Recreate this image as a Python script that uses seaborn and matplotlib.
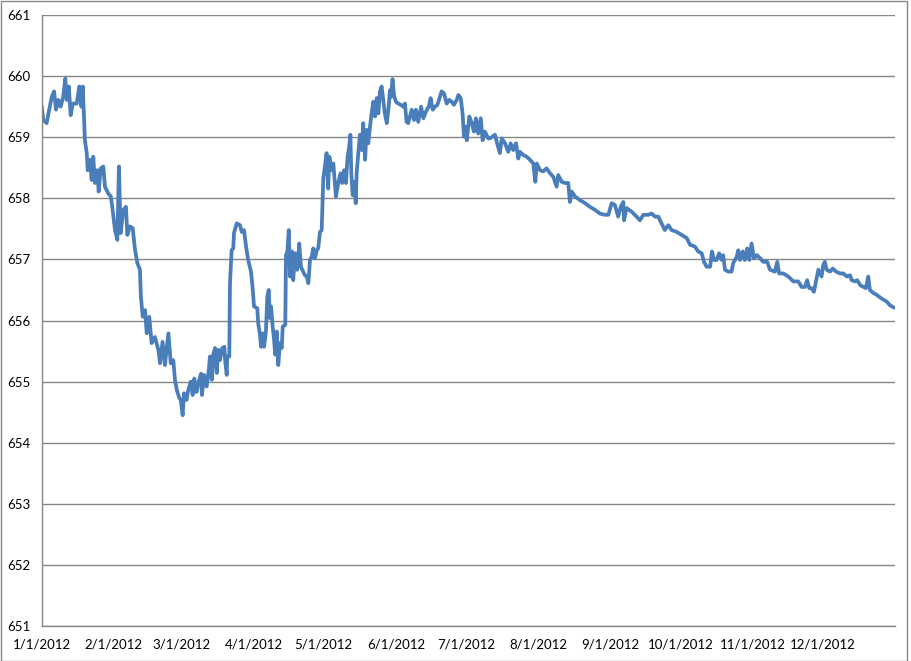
"""Excel-style line chart of a daily level series for 2012."""

import matplotlib
matplotlib.use("Agg")
import matplotlib.pyplot as plt
from matplotlib.patches import Rectangle
import pandas as pd
import seaborn as sns

# days since 1/1/2012 and the level read at that time
days = [
    0.1, 0.8, 2.2, 3.3, 4.4, 5.4, 6.2, 7.2, 8.2, 9.3, 10.2, 10.8, 11.7, 12.5,
    13.4, 15.1, 16.2, 17.1, 17.7, 18.2, 18.6, 19.4, 19.8, 20.8, 21.5, 22.2,
    22.9, 23.9, 24.5, 25.4, 26.5, 27.2, 28.6, 29.7, 30.5, 31.5, 32.5, 33.2,
    33.9, 35.1, 36.2, 36.8, 37.9, 39.1, 40.1, 41.1, 42.2, 42.6, 43.4, 44.4,
    45.1, 46.2, 47.2, 48.6, 50.1, 50.8, 51.9, 52.9, 54.4, 55.4, 56.5, 57.2,
    58.0, 59.1, 59.7, 60.5, 61.1, 62.2, 62.9, 64.0, 64.8, 65.5, 66.5, 67.4,
    68.4, 68.8, 69.7, 70.8, 71.8, 72.2, 73.0, 73.6, 74.4, 75.1, 75.8, 76.5,
    77.5, 78.4, 78.7, 79.4, 79.6, 80.5, 80.8, 81.5, 82.2, 82.5, 83.7, 85.1,
    85.8, 86.8, 87.7, 88.6, 89.8, 90.5, 91.1, 92.5, 92.9, 93.7, 94.1, 94.8,
    95.4, 96.2, 96.8, 97.4, 97.9, 98.4, 99.1, 99.7, 100.2, 100.8, 101.5,
    102.2, 103.0, 103.4, 104.5, 104.8, 105.4, 106.0, 106.5, 107.4, 107.9,
    108.7, 109.6, 110.5, 111.2, 112.2, 112.9, 113.7, 114.4, 115.1, 115.8,
    116.5, 117.2, 118.0, 118.6, 119.4, 120.1, 120.5, 120.8, 121.5, 122.2,
    122.9, 123.4, 124.4, 125.1, 126.2, 127.2, 128.2, 128.9, 129.7, 130.5,
    131.2, 131.9, 132.4, 132.8, 133.4, 134.1, 134.7, 135.1, 135.8, 136.5,
    137.3, 137.9, 138.7, 139.4, 140.1, 140.8, 141.5, 142.2, 143.0, 143.7,
    144.4, 145.1, 145.8, 146.5, 147.2, 148.0, 148.7, 149.4, 149.8, 150.5,
    151.1, 151.9, 152.9, 154.0, 155.1, 155.8, 156.5, 157.2, 158.7, 159.7,
    160.5, 161.5, 162.7, 163.7, 164.8, 166.0, 166.8, 167.7, 168.7, 169.7,
    170.8, 171.5, 172.5, 173.7, 174.8, 175.8, 176.8, 178.0, 178.7, 179.7,
    180.5, 181.1, 181.7, 182.3, 183.4, 184.4, 185.4, 186.2, 187.2, 188.3,
    189.1, 190.1, 191.5, 192.2, 194.4, 195.1, 196.5, 197.3, 198.7, 200.1,
    201.1, 202.2, 203.4, 204.4, 205.1, 206.5, 208.0, 209.4, 210.8, 211.7,
    212.3, 213.7, 215.1, 216.5, 218.0, 219.4, 220.8, 221.5, 223.0, 224.4,
    225.8, 226.5, 227.3, 228.7, 230.8, 233.0, 235.1, 237.3, 239.4, 241.5,
    243.0, 244.4, 245.8, 247.2, 248.3, 249.4, 249.7, 250.8, 253.0, 255.1,
    256.5, 258.0, 260.1, 261.6, 263.0, 264.4, 265.8, 267.2, 268.7, 270.1,
    272.3, 274.4, 276.6, 278.0, 280.1, 281.5, 283.0, 284.0, 285.1, 286.6,
    287.4, 288.3, 289.4, 290.5, 291.6, 292.2, 293.0, 294.4, 295.8, 296.5,
    298.0, 298.7, 299.4, 300.6, 301.5, 302.5, 303.4, 304.4, 305.4, 306.6,
    308.0, 309.4, 311.1, 312.3, 314.4, 315.4, 316.2, 318.0, 320.1, 322.3,
    324.4, 325.8, 327.3, 328.2, 329.1, 330.1, 331.1, 332.0, 333.0, 334.4,
    335.1, 335.8, 336.6, 338.0, 339.2, 340.6, 342.3, 343.7, 345.2, 346.6,
    347.3, 348.7, 349.7, 350.9, 352.3, 353.4, 354.4, 355.1, 356.6, 358.0,
    360.1, 362.3, 363.7, 365.5,
]
levels = [
    659.50, 659.28, 659.23, 659.45, 659.66, 659.75, 659.45, 659.61, 659.50,
    659.66, 659.96, 659.61, 659.83, 659.36, 659.55, 659.55, 659.83, 659.50,
    659.83, 659.34, 658.95, 658.74, 658.46, 658.63, 658.30, 658.68, 658.25,
    658.46, 658.11, 658.49, 658.52, 658.19, 658.08, 658.03, 657.81, 657.48,
    657.32, 658.52, 657.43, 657.81, 657.86, 657.40, 657.54, 657.51, 657.15,
    656.94, 656.83, 656.39, 656.06, 656.17, 655.79, 656.06, 655.63, 655.73,
    655.52, 655.30, 655.65, 655.27, 655.79, 655.30, 655.35, 655.03, 654.86,
    654.73, 654.70, 654.45, 654.81, 654.70, 654.86, 655.00, 654.78, 655.05,
    654.83, 655.00, 655.13, 654.78, 655.11, 654.92, 655.22, 655.41, 655.03,
    655.44, 655.55, 655.14, 655.52, 655.35, 655.55, 655.57, 655.35, 655.11,
    655.41, 655.41, 656.61, 657.15, 657.18, 657.43, 657.59, 657.56, 657.45,
    657.48, 657.21, 656.99, 656.80, 656.53, 656.23, 656.20, 655.95, 655.76,
    655.57, 655.79, 655.57, 655.82, 656.39, 656.50, 656.04, 656.23, 655.90,
    655.68, 655.44, 655.82, 655.27, 655.63, 655.55, 655.90, 655.93, 657.07,
    657.13, 657.48, 656.72, 657.13, 656.66, 657.10, 656.83, 657.26, 656.88,
    656.80, 656.74, 656.72, 656.61, 656.99, 657.04, 657.18, 657.02, 657.15,
    657.18, 657.45, 657.48, 657.97, 658.33, 658.52, 658.74, 658.16, 658.68,
    658.46, 658.57, 658.03, 658.25, 658.41, 658.25, 658.46, 658.25, 658.68,
    658.84, 659.04, 658.41, 658.05, 658.27, 657.92, 658.41, 658.74, 659.04,
    658.79, 659.23, 658.63, 659.12, 658.90, 659.17, 659.39, 659.58, 659.34,
    659.64, 659.39, 659.75, 659.83, 659.61, 659.39, 659.23, 659.45, 659.77,
    659.66, 659.95, 659.69, 659.58, 659.55, 659.53, 659.50, 659.55, 659.25,
    659.23, 659.45, 659.28, 659.45, 659.25, 659.50, 659.31, 659.42, 659.50,
    659.64, 659.45, 659.50, 659.53, 659.66, 659.75, 659.72, 659.55, 659.61,
    659.58, 659.53, 659.61, 659.69, 659.64, 659.39, 659.01, 659.17, 658.95,
    659.34, 659.23, 659.09, 659.31, 659.06, 659.31, 658.95, 659.09, 658.98,
    658.98, 659.04, 658.93, 658.74, 658.98, 658.90, 658.76, 658.90, 658.79,
    658.90, 658.65, 658.76, 658.71, 658.68, 658.63, 658.57, 658.27, 658.57,
    658.46, 658.44, 658.49, 658.41, 658.35, 658.19, 658.38, 658.27, 658.25,
    658.25, 657.94, 658.11, 658.03, 657.97, 657.92, 657.86, 657.81, 657.75,
    657.73, 657.73, 657.92, 657.89, 657.70, 657.86, 657.94, 657.64, 657.84,
    657.78, 657.70, 657.64, 657.73, 657.73, 657.75, 657.70, 657.70, 657.59,
    657.48, 657.56, 657.48, 657.45, 657.40, 657.35, 657.24, 657.21, 657.13,
    657.10, 656.96, 656.88, 656.88, 657.13, 656.99, 656.99, 657.10, 656.99,
    657.07, 656.83, 656.80, 656.80, 656.94, 657.04, 657.15, 656.99, 657.13,
    656.99, 657.18, 656.99, 657.26, 657.02, 657.07, 657.02, 656.96, 656.96,
    656.83, 656.80, 656.96, 656.77, 656.77, 656.72, 656.64, 656.64, 656.55,
    656.55, 656.66, 656.53, 656.53, 656.47, 656.64, 656.83, 656.72, 656.91,
    656.96, 656.83, 656.80, 656.85, 656.80, 656.77, 656.77, 656.72, 656.74,
    656.66, 656.64, 656.66, 656.58, 656.55, 656.53, 656.72, 656.50, 656.45,
    656.42, 656.36, 656.31, 656.25, 656.21,
]
y_ticks = list(range(651, 662))

start = pd.Timestamp("2012-01-01")
df = pd.DataFrame({
    "date": start + pd.to_timedelta(days, unit="D"),
    "level": levels,
})

sns.set_theme(style="white")
plt.rcParams["font.family"] = ["Lato", "DejaVu Sans"]

grey = "#868686"
fig = plt.figure(figsize=(9.11, 6.61), dpi=100)
ax = fig.add_axes([41.5 / 911, 1 - 626 / 661, (895.3 - 41.5) / 911, (626 - 15) / 661])

sns.lineplot(data=df, x="date", y="level", ax=ax, color="#4A7EBB",
             linewidth=2.7, estimator=None, sort=False)

ax.set_ylim(651, 661)
ax.set_yticks(y_ticks)
ax.set_xlim(start, pd.Timestamp("2013-01-01"))
month_starts = pd.date_range("2012-01-01", "2013-01-01", freq="MS")
ax.set_xticks(month_starts)
ax.set_xticklabels([f"{d.month}/{d.day}/{d.year}" for d in month_starts[:-1]] + [""])

ax.grid(axis="y", color=grey, linewidth=1)
ax.set_axisbelow(True)
for side in ("top", "right"):
    ax.spines[side].set_visible(False)
for side in ("left", "bottom"):
    ax.spines[side].set_color(grey)
    ax.spines[side].set_linewidth(1)
ax.tick_params(axis="both", which="major", direction="out", length=5,
               width=1, color=grey, labelsize=9.5, labelcolor="black", pad=4)
ax.tick_params(axis="y", pad=3)
ax.set_xlabel("")
ax.set_ylabel("")

fig.patches.append(Rectangle((0.5 / 911, 0.5 / 661), 906.5 / 911, 659.5 / 661,
                             transform=fig.transFigure, fill=False,
                             edgecolor=grey, linewidth=1))

fig.savefig("out.png", dpi=100)
plt.close(fig)
